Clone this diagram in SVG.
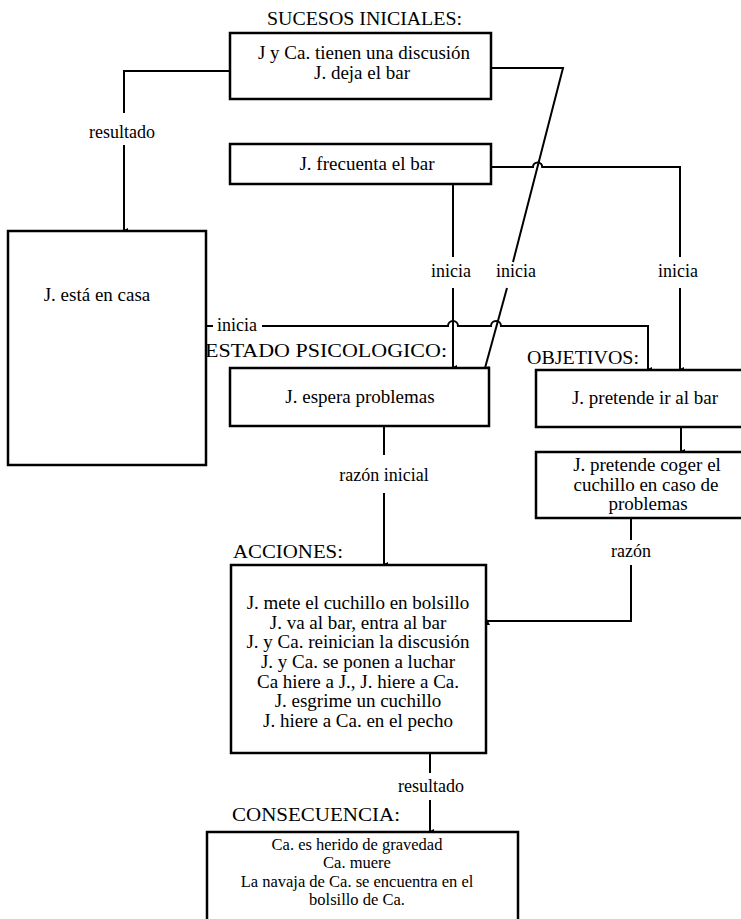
<svg xmlns="http://www.w3.org/2000/svg" width="741" height="919" viewBox="0 0 741 919">
  <style>
    .box { fill: #fff; stroke: #000; stroke-width: 2.5; }
    .ln { fill: none; stroke: #000; stroke-width: 2; }
    text { font-family: "Liberation Serif", "Times New Roman", serif; fill: #000; }
    .t { font-size: 19px; text-anchor: middle; }
    .ts { font-size: 16.5px; text-anchor: middle; }
    .lbl { font-size: 18px; text-anchor: middle; }
    .hd { font-size: 19px; }
  </style>
  <defs>
    <marker id="dot" viewBox="0 0 6 6" refX="3" refY="4" markerWidth="6" markerHeight="6" markerUnits="userSpaceOnUse" orient="auto-start-reverse">
      <path d="M0,0 L6,0 L3,6 Z" fill="#000"/>
    </marker>
  </defs>
  <rect width="741" height="919" fill="#fff"/>

  <!-- section headings -->
  <g id="headings">
    <text class="hd" x="267" y="25" textLength="195" lengthAdjust="spacingAndGlyphs">SUCESOS INICIALES:</text>
    <text class="hd" x="205" y="357" textLength="242" lengthAdjust="spacingAndGlyphs">ESTADO PSICOLOGICO:</text>
    <text class="hd" x="527" y="364" textLength="112" lengthAdjust="spacingAndGlyphs">OBJETIVOS:</text>
    <text class="hd" x="233" y="558" textLength="110" lengthAdjust="spacingAndGlyphs">ACCIONES:</text>
    <text class="hd" x="232" y="821" textLength="168" lengthAdjust="spacingAndGlyphs">CONSECUENCIA:</text>
  </g>

  <!-- connectors -->
  <g id="connectors">
    <path class="ln" d="M230,71 H124 V113"/>
    <path class="ln" d="M124,145 V231" marker-end="url(#dot)"/>
    <path class="ln" d="M491,68 H563 L513,262"/>
    <path class="ln" d="M507,288 L485,368" marker-end="url(#dot)"/>
    <path class="ln" d="M491,167 H533 A4.6,4.6 0 0 1 542.2,167 H680 V257"/>
    <path class="ln" d="M680,288 V370" marker-end="url(#dot)"/>
    <path class="ln" d="M453,184 V257"/>
    <path class="ln" d="M453,288 V368" marker-end="url(#dot)"/>
    <path class="ln" d="M206,326 H213"/>
    <path class="ln" d="M262,326 H448 A5,5 0 0 1 458,326 H491 A5,5 0 0 1 501,326 H648 V370" marker-end="url(#dot)"/>
    <path class="ln" d="M681,427 V452" marker-end="url(#dot)"/>
    <path class="ln" d="M384,426 V455"/>
    <path class="ln" d="M384,493 V565" marker-end="url(#dot)"/>
    <path class="ln" d="M631,518 V540"/>
    <path class="ln" d="M631,565 V621 H487" marker-end="url(#dot)"/>
    <path class="ln" d="M430,753 V773"/>
    <path class="ln" d="M430,800 V832" marker-end="url(#dot)"/>
    <text class="lbl" x="122" y="138">resultado</text>
    <text class="lbl" x="451" y="277">inicia</text>
    <text class="lbl" x="516" y="277">inicia</text>
    <text class="lbl" x="678" y="277">inicia</text>
    <text class="lbl" x="237" y="331">inicia</text>
    <text class="lbl" x="384" y="481">razón inicial</text>
    <text class="lbl" x="631" y="557">razón</text>
    <text class="lbl" x="431" y="792">resultado</text>
  </g>

  <g id="n-discusion">
    <rect class="box" x="230" y="33" width="261" height="66"/>
    <text class="t" x="364" y="59">J y Ca. tienen una discusión</text>
    <text class="t" x="362" y="79">J. deja el bar</text>
  </g>

  <g id="n-frecuenta">
    <rect class="box" x="230" y="144" width="261" height="40"/>
    <text class="t" x="367" y="170">J. frecuenta el bar</text>
  </g>

  <g id="n-casa">
    <rect class="box" x="8" y="231" width="198" height="234"/>
    <text class="t" x="97" y="301">J. está en casa</text>
  </g>

  <g id="n-espera">
    <rect class="box" x="230" y="368" width="259" height="58"/>
    <text class="t" x="360" y="403">J. espera problemas</text>
  </g>

  <g id="n-ir">
    <rect class="box" x="536" y="370" width="220" height="57"/>
    <text class="t" x="645" y="404">J. pretende ir al bar</text>
  </g>

  <g id="n-coger">
    <rect class="box" x="536" y="452" width="220" height="66"/>
    <text class="t" x="647" y="471">J. pretende coger el</text>
    <text class="t" x="646" y="491">cuchillo en caso de</text>
    <text class="t" x="648" y="510">problemas</text>
  </g>

  <g id="n-acciones">
    <rect class="box" x="231" y="565" width="255" height="188"/>
    <text class="t" x="358" y="609">J. mete el cuchillo en bolsillo</text>
    <text class="t" x="358" y="629">J. va al bar, entra al bar</text>
    <text class="t" x="358" y="648">J. y Ca. reinician la discusión</text>
    <text class="t" x="358" y="668">J. y Ca. se ponen a luchar</text>
    <text class="t" x="358" y="688">Ca hiere a J., J. hiere a Ca.</text>
    <text class="t" x="358" y="707">J. esgrime un cuchillo</text>
    <text class="t" x="358" y="727">J. hiere a Ca. en el pecho</text>
  </g>

  <g id="n-consecuencia">
    <rect class="box" x="207" y="832" width="311" height="100"/>
    <text class="ts" x="357" y="850">Ca. es herido de gravedad</text>
    <text class="ts" x="357" y="868.4">Ca. muere</text>
    <text class="ts" x="357" y="886.8">La navaja de Ca. se encuentra en el</text>
    <text class="ts" x="357" y="905.2">bolsillo de Ca.</text>
  </g>
</svg>
